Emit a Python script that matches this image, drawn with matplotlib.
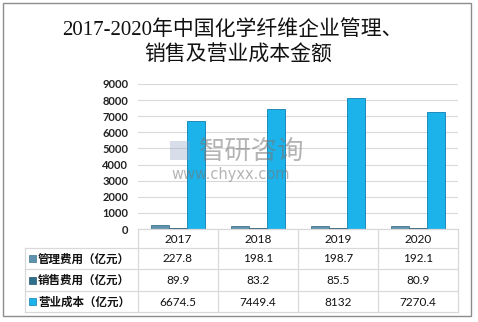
import matplotlib
matplotlib.use("Agg")
import matplotlib.pyplot as plt
import numpy as np

plt.rcParams['font.family'] = ['Noto Sans CJK SC', 'DejaVu Sans']

years = ['2017', '2018', '2019', '2020']
series_names = ['管理费用（亿元）', '销售费用（亿元）', '营业成本（亿元）']
mgmt_cost = [227.8, 198.1, 198.7, 192.1]
sales_cost = [89.9, 83.2, 85.5, 80.9]
operating_cost = [6674.5, 7449.4, 8132, 7270.4]
value_labels = [['227.8', '198.1', '198.7', '192.1'],
                ['89.9', '83.2', '85.5', '80.9'],
                ['6674.5', '7449.4', '8132', '7270.4']]
yticks = [0, 1000, 2000, 3000, 4000, 5000, 6000, 7000, 8000, 9000]

colors = ['#5f93ad', '#2f6f8c', '#1cb2ea']
edges = ['#3f7690', '#1e5670', '#0b7fb2']

W, H = 478, 322
fig = plt.figure(figsize=(W / 100, H / 100), dpi=100)

# plot area in pixels
px_l, px_r, px_top, px_bot = 138, 458, 84, 229
ax = fig.add_axes([px_l / W, 1 - px_bot / H, (px_r - px_l) / W, (px_bot - px_top) / H])
x = np.arange(len(years))
bw = 0.22
for k, vals in enumerate([mgmt_cost, sales_cost, operating_cost]):
    ax.bar(x + (k - 1) * 0.228, vals, width=bw, color=colors[k],
           edgecolor=edges[k], linewidth=0.6, zorder=3)
ax.set_xlim(-0.5, 3.5)
ax.set_ylim(0, 9000)
ax.set_yticks(yticks)
ax.set_yticklabels([str(v) for v in yticks], fontsize=8, color='#222222',
                   family=['Lato', 'DejaVu Sans'], fontweight='bold')
ax.tick_params(axis='y', length=0, pad=7)
ax.set_xticks([])
ax.grid(axis='y', color='#d9d9d9', linewidth=0.8, zorder=0)
for s in ['top', 'right', 'left', 'bottom']:
    ax.spines[s].set_visible(False)

# overlay in pixel coordinates for title, table and frame
ov = fig.add_axes([0, 0, 1, 1], zorder=5)
ov.set_xlim(0, W)
ov.set_ylim(H, 0)
ov.axis('off')
ov.patch.set_alpha(0)

ov.add_patch(plt.Rectangle((3, 3), 468, 313, fill=False, edgecolor='#8c8c8c', linewidth=1.0))

title_font = ['Liberation Serif', 'Noto Sans CJK SC']
ov.text(232, 30, '2017-2020年中国化学纤维企业管理、', ha='center', va='center', fontsize=15,
        color='#111111', family=title_font, fontweight='medium')
ov.text(238, 56, '销售及营业成本金额', ha='center', va='center', fontsize=15,
        color='#111111', family=title_font, fontweight='medium')

# watermark
ov.add_patch(plt.Rectangle((170, 141), 20, 19, facecolor='#8fa3c4', alpha=0.35, edgecolor='none'))
ov.text(199, 151, '智研咨询', ha='left', va='center', fontsize=19, color='#777777', alpha=0.55)
ov.text(171, 174, 'www.chyxx.com', ha='left', va='center', fontsize=10.5, color='#777777', alpha=0.55,
        family=['DejaVu Sans'])

# data table
grid_c = '#d9d9d9'
col_x = [138, 218, 298, 378, 458]
row_y = [229, 248, 269, 291, 312]
lab_l = 25
for cx in col_x:
    ov.plot([cx, cx], [row_y[0], row_y[-1]], color=grid_c, lw=0.9)
ov.plot([lab_l, lab_l], [row_y[1], row_y[-1]], color=grid_c, lw=0.9)
ov.plot([col_x[0], col_x[-1]], [row_y[0], row_y[0]], color=grid_c, lw=0.9)
for ry in row_y[1:]:
    ov.plot([lab_l, col_x[-1]], [ry, ry], color=grid_c, lw=0.9)

for j, yr in enumerate(years):
    ov.text((col_x[j] + col_x[j + 1]) / 2, (row_y[0] + row_y[1]) / 2 + 1, yr,
            ha='center', va='center', fontsize=8.5, color='#111111', family=['Lato', 'DejaVu Sans'])
for i, name in enumerate(series_names):
    cy = (row_y[i + 1] + row_y[i + 2]) / 2
    ov.add_patch(plt.Rectangle((29, cy - 3.5), 7, 7, facecolor=colors[i], edgecolor=edges[i], lw=0.5))
    ov.text(38, cy + 0.5, name, ha='left', va='center', fontsize=8.3, color='#111111', fontweight='bold')
    for j in range(len(years)):
        ov.text((col_x[j] + col_x[j + 1]) / 2, cy + 0.5, value_labels[i][j],
                ha='center', va='center', fontsize=8.5, color='#111111', family=['Lato', 'DejaVu Sans'])

fig.savefig('out.png', dpi=100)
